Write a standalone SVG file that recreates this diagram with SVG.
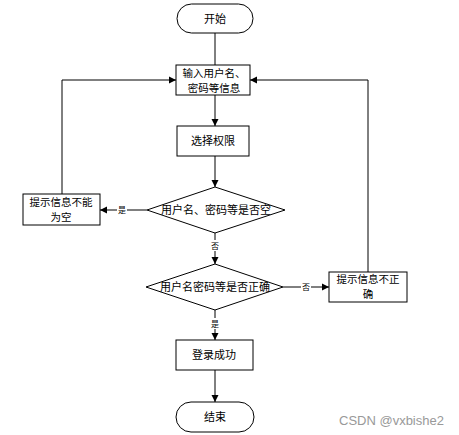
<svg xmlns="http://www.w3.org/2000/svg" width="459" height="435" viewBox="0 0 459 435">
<style>
.s{fill:#fff;stroke:#000;stroke-width:1}
.t{font-family:"Noto Sans CJK SC","Noto Sans",sans-serif;font-size:11px;fill:#000;text-anchor:middle}
.t2{font-family:"Noto Sans CJK SC","Noto Sans",sans-serif;font-size:10.5px;fill:#000;text-anchor:middle}
.l{font-family:"Noto Sans CJK SC","Noto Sans",sans-serif;font-size:8px;fill:#000;text-anchor:middle}
.c{fill:none;stroke:#000;stroke-width:1}
</style>
<defs>
<marker id="a" markerWidth="8" markerHeight="8" refX="7" refY="4" orient="auto" markerUnits="userSpaceOnUse">
<path d="M0,0.5 L7,4 L0,7.5 Z" fill="#000"/>
</marker>
</defs>
<rect width="459" height="435" fill="#fff"/>
<g id="connectors">
<line class="c" x1="215" y1="33" x2="215" y2="65"/>
<line class="c" x1="215" y1="95" x2="215" y2="126" marker-end="url(#a)"/>
<line class="c" x1="215" y1="156" x2="215" y2="187" marker-end="url(#a)"/>
<line class="c" x1="147" y1="210" x2="100" y2="210" marker-end="url(#a)"/>
<polyline class="c" points="62,194 62,80 176,80" marker-end="url(#a)"/>
<line class="c" x1="215" y1="233" x2="215" y2="264" marker-end="url(#a)"/>
<line class="c" x1="283" y1="287" x2="329" y2="287" marker-end="url(#a)"/>
<polyline class="c" points="368,272 368,80 250,80" marker-end="url(#a)"/>
<line class="c" x1="215" y1="310" x2="215" y2="340" marker-end="url(#a)"/>
<line class="c" x1="215" y1="370" x2="215" y2="402" marker-end="url(#a)"/>
<rect x="117" y="204" width="10" height="11" fill="#fff"/>
<text class="l" x="122" y="213">是</text>
<rect x="210" y="240" width="10" height="11" fill="#fff"/>
<text class="l" x="215" y="249">否</text>
<rect x="301" y="281" width="10" height="11" fill="#fff"/>
<text class="l" x="306" y="290">否</text>
<rect x="210" y="318" width="10" height="11" fill="#fff"/>
<text class="l" x="215" y="327">是</text>
</g>
<g id="start">
<rect class="s" x="177" y="4" width="76" height="29" rx="14.5"/>
<text class="t" x="215" y="22.5">开始</text>
</g>
<g id="input">
<rect class="s" x="176" y="65" width="74" height="30"/>
<text class="t2" x="214" y="77">输入用户名、</text>
<text class="t2" x="214" y="92">密码等信息</text>
</g>
<g id="select">
<rect class="s" x="177" y="126" width="72" height="30"/>
<text class="t" x="213" y="145">选择权限</text>
</g>
<g id="check-empty">
<polygon class="s" points="215,187 285,210 215,233 147,210"/>
<text class="t" x="216" y="214">用户名、密码等是否空</text>
</g>
<g id="empty-msg">
<rect class="s" x="23" y="194" width="77" height="31"/>
<text class="t2" x="61" y="206">提示信息不能</text>
<text class="t2" x="61" y="221">为空</text>
</g>
<g id="check-correct">
<polygon class="s" points="215,264 283,287 215,310 146,287"/>
<text class="t" x="215" y="291">用户名密码等是否正确</text>
</g>
<g id="wrong-msg">
<rect class="s" x="329" y="272" width="78" height="30"/>
<text class="t2" x="368" y="283">提示信息不正</text>
<text class="t2" x="368" y="298">确</text>
</g>
<g id="success">
<rect class="s" x="176" y="340" width="77" height="30"/>
<text class="t" x="214" y="359">登录成功</text>
</g>
<g id="end">
<rect class="s" x="176" y="402" width="78" height="30" rx="15"/>
<text class="t" x="215" y="421">结束</text>
</g>
<text x="339" y="425" font-family="Liberation Sans, sans-serif" font-size="13" fill="#999">CSDN @vxbishe2</text>
</svg>
